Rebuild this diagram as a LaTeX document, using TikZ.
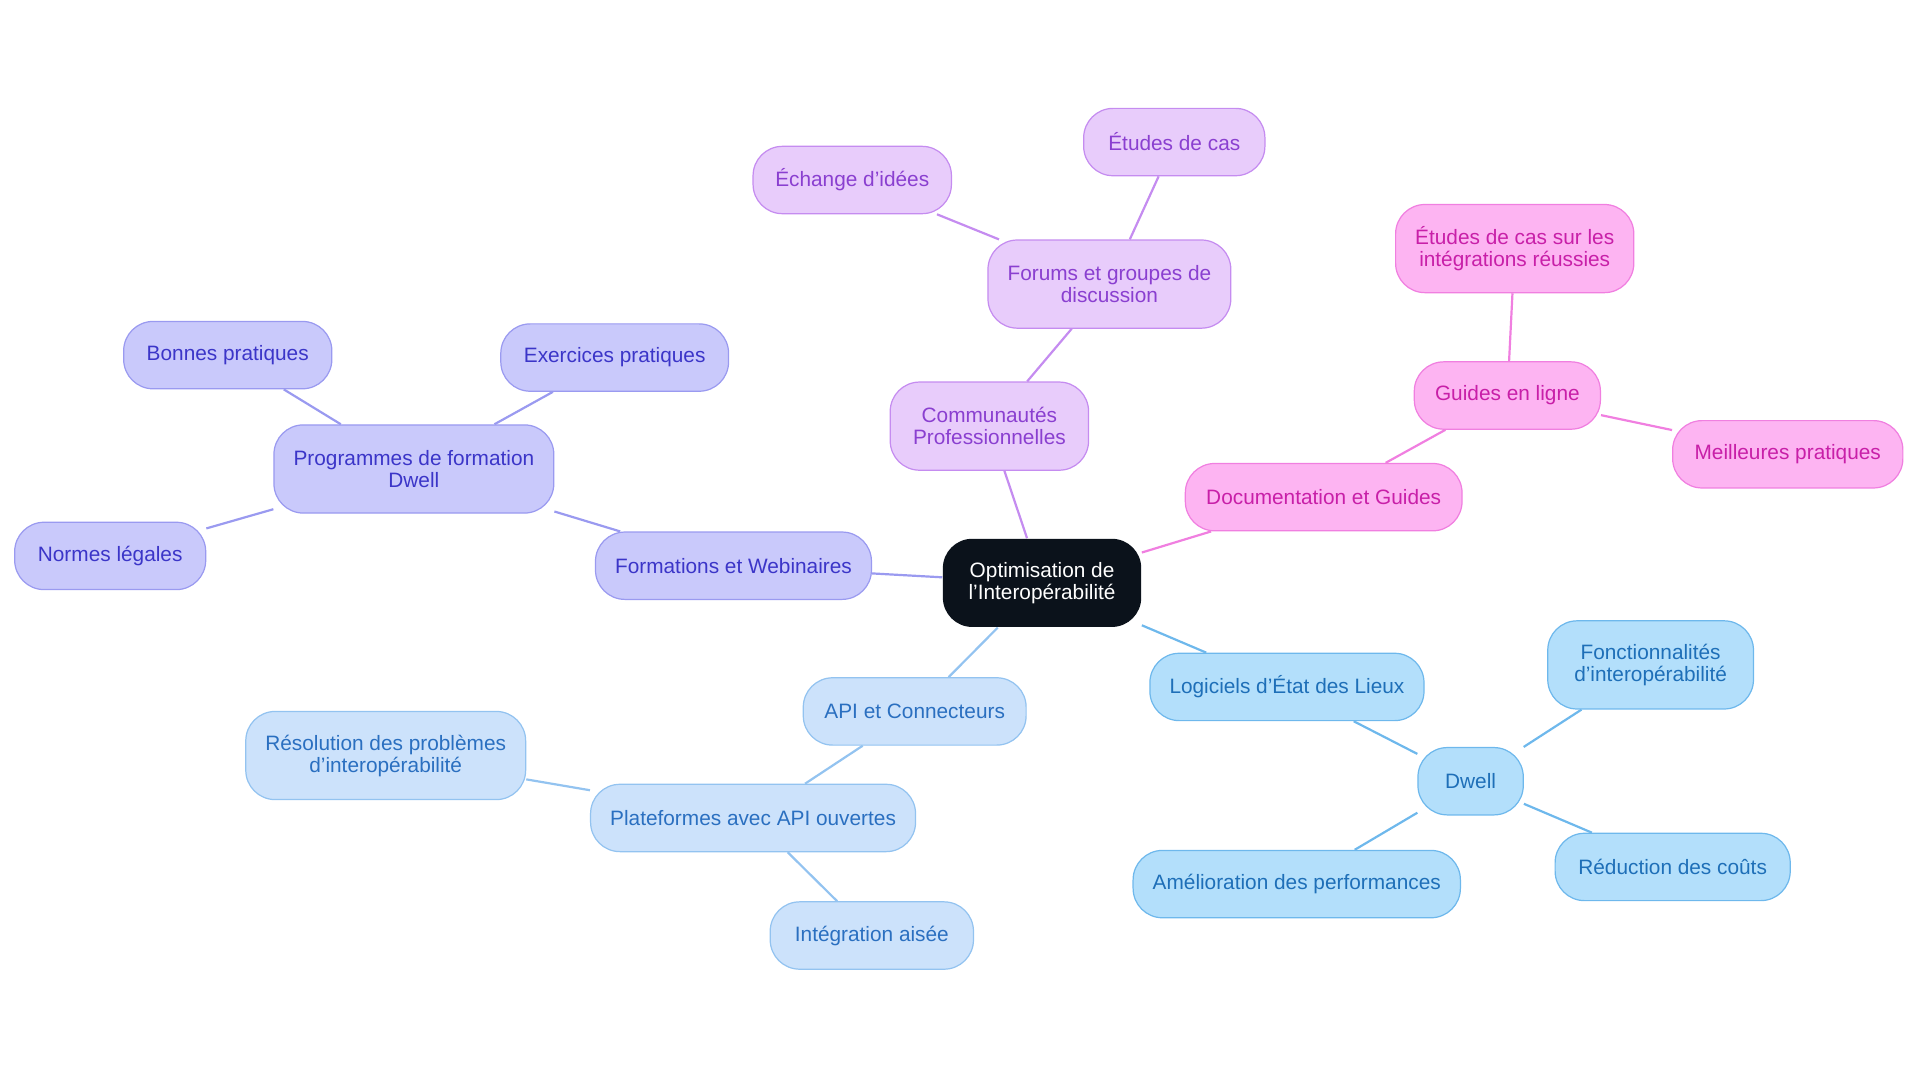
\documentclass[tikz,border=0pt]{standalone}
\usepackage{fontspec}
\setmainfont{Liberation Sans}
\usetikzlibrary{backgrounds}

\definecolor{centrefill}{HTML}{0B121B}
\definecolor{formfill}{HTML}{C9C9FB}
\definecolor{formline}{HTML}{9A9AF0}
\definecolor{formtext}{HTML}{3B35C8}
\definecolor{commfill}{HTML}{E8CCFB}
\definecolor{commline}{HTML}{C58CF0}
\definecolor{commtext}{HTML}{8A3FD0}
\definecolor{docfill}{HTML}{FDB4F2}
\definecolor{docline}{HTML}{F07FE0}
\definecolor{doctext}{HTML}{C81FA8}
\definecolor{logfill}{HTML}{B3DFFB}
\definecolor{logline}{HTML}{6EB8EC}
\definecolor{logtext}{HTML}{1E6FB8}
\definecolor{apifill}{HTML}{CCE2FB}
\definecolor{apiline}{HTML}{93C3F0}
\definecolor{apitext}{HTML}{2A6FC0}

\tikzset{
  box/.style={rounded corners=12pt, align=center, font=\fontsize{8.5}{9}\selectfont,
    minimum height=27.5pt, inner xsep=8pt, line width=0.5pt},
  form/.style={box, fill=formfill, draw=formline, text=formtext},
  comm/.style={box, fill=commfill, draw=commline, text=commtext},
  doc/.style={box, fill=docfill, draw=docline, text=doctext},
  log/.style={box, fill=logfill, draw=logline, text=logtext},
  api/.style={box, fill=apifill, draw=apiline, text=apitext},
  link/.style={line width=0.9pt}
}

\begin{document}
\begin{tikzpicture}[x=0.5pt, y=-0.5pt]
    \useasboundingbox (0,0) rectangle (1568,884);

    % Centre
    \node[box, fill=centrefill, text=white, minimum width=81pt, minimum height=36pt] (opt) at (851,476) {Optimisation de\\l'Interopérabilité};

    % Formations
    \node[form, minimum width=112pt] (webi) at (599,462) {Formations et Webinaires};
    \node[form, minimum width=114pt, minimum height=36pt] (prog) at (338,383) {Programmes de formation\\Dwell};
    \node[form, minimum width=85pt] (bonn) at (186,290) {Bonnes pratiques};
    \node[form, minimum width=93pt] (exer) at (502,292) {Exercices pratiques};
    \node[form, minimum width=78pt] (norm) at (90,454) {Normes légales};

    % Communautes
    \node[comm, minimum width=81pt, minimum height=36pt] (comm) at (808,348) {Communautés\\Professionnelles};
    \node[comm, minimum width=99pt, minimum height=36pt] (foru) at (906,232) {Forums et groupes de\\discussion};
    \node[comm, minimum width=81pt] (echa) at (696,147) {Échange d'idées};
    \node[comm, minimum width=74pt] (etud) at (959,116) {Études de cas};

    % Documentation
    \node[doc, minimum width=113pt] (docu) at (1081,406) {Documentation et Guides};
    \node[doc, minimum width=76pt] (guid) at (1231,323) {Guides en ligne};
    \node[doc, minimum width=97pt, minimum height=36pt] (inte) at (1237,203) {Études de cas sur les\\intégrations réussies};
    \node[doc, minimum width=94pt] (meil) at (1460,371) {Meilleures pratiques};

    % Logiciels
    \node[log, minimum width=111pt] (logi) at (1051,561) {Logiciels d'État des Lieux};
    \node[log, minimum width=43pt] (dwel) at (1201,638) {Dwell};
    \node[log, minimum width=84pt, minimum height=36pt] (fonc) at (1348,543) {Fonctionnalités\\d'interopérabilité};
    \node[log, minimum width=132pt] (amel) at (1059,722) {Amélioration des performances};
    \node[log, minimum width=96pt] (redu) at (1366,708) {Réduction des coûts};

    % API
    \node[api, minimum width=91pt] (apic) at (747,581) {API et Connecteurs};
    \node[api, minimum width=129pt] (plat) at (615,668) {Plateformes avec API ouvertes};
    \node[api, minimum width=113pt, minimum height=36pt] (reso) at (315,617) {Résolution des problèmes\\d'interopérabilité};
    \node[api, minimum width=83pt] (aise) at (712,764) {Intégration aisée};

    \begin{scope}[on background layer]
        \draw[link, formline] (opt) -- (webi) (webi) -- (prog) (prog) -- (bonn)
            (prog) -- (exer) (prog) -- (norm);
        \draw[link, commline] (opt) -- (comm) (comm) -- (foru) (foru) -- (echa) (foru) -- (etud);
        \draw[link, docline] (opt) -- (docu) (docu) -- (guid) (guid) -- (inte) (guid) -- (meil);
        \draw[link, logline] (opt) -- (logi) (logi) -- (dwel) (dwel) -- (fonc)
            (dwel) -- (amel) (dwel) -- (redu);
        \draw[link, apiline] (opt) -- (apic) (apic) -- (plat) (plat) -- (reso) (plat) -- (aise);
    \end{scope}
\end{tikzpicture}
\end{document}
